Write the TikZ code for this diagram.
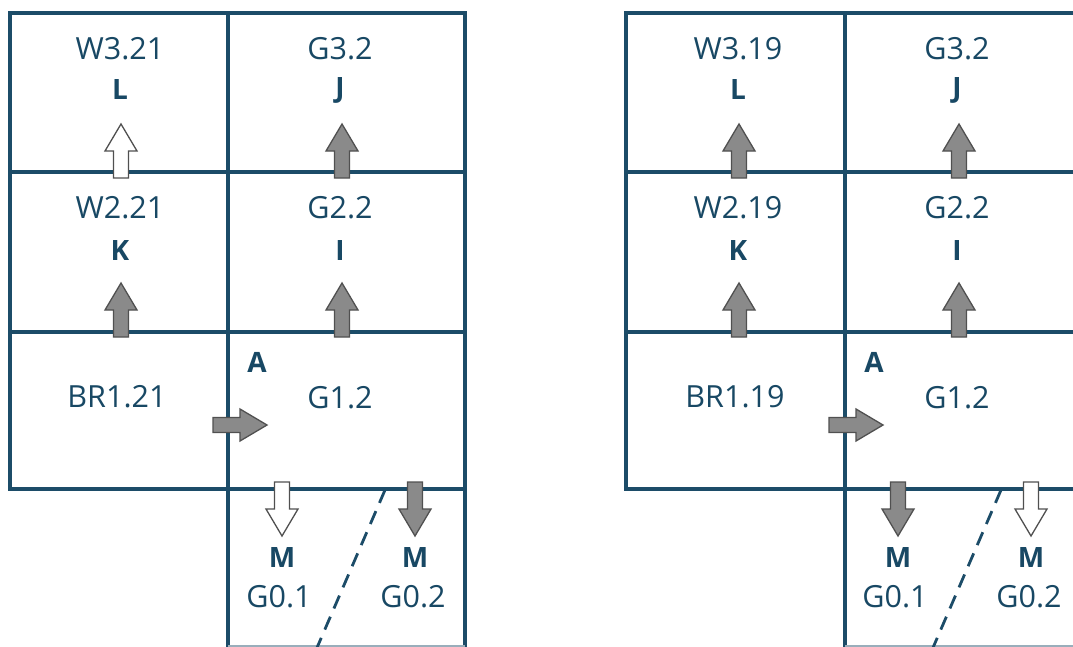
\documentclass[tikz,border=0pt]{standalone}
\usepackage{fontspec}
\setmainfont{Open Sans}
\begin{document}
\begin{tikzpicture}[x=1pt,y=-1pt,
  gridline/.style={draw=gridc,line width=3.2pt},
  edgeline/.style={draw=gridc!45,line width=2pt},
  dashline/.style={draw=gridc,line width=2.8pt,dash pattern=on 14pt off 9pt},
  lbl/.style={text=textc,font=\fontsize{30.5}{36}\selectfont,inner sep=0pt,anchor=center},
  blbl/.style={text=textc,font=\fontsize{28}{33}\selectfont\bfseries,inner sep=0pt,anchor=center},
  arrowshape/.style={draw=arrowc,line width=1.3pt,line join=miter},
  blockarrow/.pic={\path[arrowshape,#1] (0,-7.5) -- (27,-7.5) -- (27,-16) -- (54,0) -- (27,16) -- (27,7.5) -- (0,7.5) -- cycle;},
]
\definecolor{gridc}{RGB}{28,76,104}
\definecolor{textc}{RGB}{24,72,100}
\definecolor{arrowc}{RGB}{80,80,80}
\definecolor{grayf}{RGB}{138,138,138}
\useasboundingbox (0,0) rectangle (1073,646);
\clip (0,0) rectangle (1073,646);
\fill[white] (0,0) rectangle (1073,646);

% ---------- left diagram ----------
\begin{scope}
  \draw[gridline] (10,13) rectangle (465,489);
  \draw[gridline] (10,172) -- (465,172);
  \draw[gridline] (10,332) -- (465,332);
  \draw[gridline] (228,13) -- (228,648);
  \draw[gridline] (465,489) -- (465,648);
  \draw[edgeline] (228,646) -- (465,646);
  \draw[dashline] (385,490) -- (316,650);
  \node[lbl] (lw3) at (120,49) {W3.21};
  \node[blbl] (ll) at (120,90) {L};
  \node[lbl] (lg3) at (340,49) {G3.2};
  \node[blbl] (lj) at (340,90) {J};
  \node[lbl] (lw2) at (120,208) {W2.21};
  \node[blbl] (lk) at (120,250) {K};
  \node[lbl] (lg2) at (340,208) {G2.2};
  \node[blbl] (li) at (340,250) {I};
  \node[lbl] (lbr) at (117,397) {BR1.21};
  \node[blbl] (la) at (257,362) {A};
  \node[lbl] (lg1) at (340,398) {G1.2};
  \node[blbl] (lm1) at (282,557) {M};
  \node[blbl] (lm2) at (415,557) {M};
  \node[lbl] (lg01) at (279,597) {G0.1};
  \node[lbl] (lg02) at (413,597) {G0.2};
  \pic[rotate=90] at (121,178) {blockarrow={fill=white}};
  \pic[rotate=90] at (342,178) {blockarrow={fill=grayf}};
  \pic[rotate=90] at (121,337) {blockarrow={fill=grayf}};
  \pic[rotate=90] at (342,337) {blockarrow={fill=grayf}};
  \pic at (213,425) {blockarrow={fill=grayf}};
  \pic[rotate=-90] at (282,482) {blockarrow={fill=white}};
  \pic[rotate=-90] at (415,482) {blockarrow={fill=grayf}};
\end{scope}

% ---------- right diagram ----------
\begin{scope}[xshift=616pt]
  \draw[gridline] (10,13) rectangle (466,489);
  \draw[gridline] (10,172) -- (466,172);
  \draw[gridline] (10,332) -- (466,332);
  \draw[gridline] (229,13) -- (229,648);
  \draw[edgeline] (229,646) -- (466,646);
  \draw[dashline] (385,490) -- (316,650);
  \node[lbl] (rw3) at (122,49) {W3.19};
  \node[blbl] (rl) at (122,90) {L};
  \node[lbl] (rg3) at (341,49) {G3.2};
  \node[blbl] (rj) at (341,90) {J};
  \node[lbl] (rw2) at (122,208) {W2.19};
  \node[blbl] (rk) at (122,250) {K};
  \node[lbl] (rg2) at (341,208) {G2.2};
  \node[blbl] (ri) at (341,250) {I};
  \node[lbl] (rbr) at (119,397) {BR1.19};
  \node[blbl] (ra) at (258,362) {A};
  \node[lbl] (rg1) at (341,398) {G1.2};
  \node[blbl] (rm1) at (282,557) {M};
  \node[blbl] (rm2) at (415,557) {M};
  \node[lbl] (rg01) at (279,597) {G0.1};
  \node[lbl] (rg02) at (413,597) {G0.2};
  \pic[rotate=90] at (123,178) {blockarrow={fill=grayf}};
  \pic[rotate=90] at (343,178) {blockarrow={fill=grayf}};
  \pic[rotate=90] at (123,337) {blockarrow={fill=grayf}};
  \pic[rotate=90] at (343,337) {blockarrow={fill=grayf}};
  \pic at (213,425) {blockarrow={fill=grayf}};
  \pic[rotate=-90] at (282,482) {blockarrow={fill=grayf}};
  \pic[rotate=-90] at (415,482) {blockarrow={fill=white}};
\end{scope}
\end{tikzpicture}
\end{document}
